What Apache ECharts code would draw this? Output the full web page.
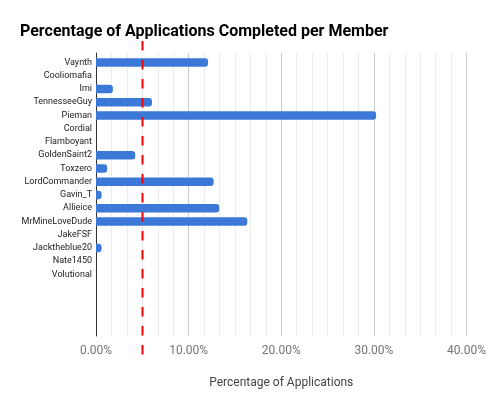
<!DOCTYPE html>
<html>
<head>
<meta charset="utf-8">
<script src="https://cdn.jsdelivr.net/npm/echarts@6/dist/echarts.min.js"></script>
<style>html,body{margin:0;padding:0;background:#fff}#c{width:489px;height:411px}</style>
</head>
<body>
<div id="c"></div>
<script>
const members = ["Vaynth","Cooliomafia","Imi","TennesseeGuy","Pieman","Cordial","Flamboyant","GoldenSaint2","Toxzero","LordCommander","Gavin_T","Allieice","MrMineLoveDude","JakeFSF","Jacktheblue20","Nate1450","Volutional"];
const percentCompleted = [12.05,0,1.81,6.02,30.12,0,0,4.22,1.2,12.65,0.6,13.25,16.27,0,0.6,0,0];
const emptyRows = ["","","",""];
const targetPercent = 5;
const xTicks = [0,10,20,30,40];

const cats = members.concat(emptyRows);
const vals = percentCompleted.concat(emptyRows.map(()=>null));
const font = 'Roboto';

const chart = echarts.init(document.getElementById('c'), null, {renderer:'canvas'});
chart.setOption({
  animation:false,
  backgroundColor:'#fff',
  title:{text:'Percentage of Applications Completed per Member', left:15, top:19,
    textStyle:{fontFamily:font, fontWeight:'bold', fontSize:16, color:'#000'}},
  grid:[
    {left:96, right:21, top:53, bottom:75},
    {left:96, right:21, top:55.8, height:278.25},
    {left:96, right:21, top:41, bottom:52}
  ],
  xAxis:[
    {gridIndex:0, type:'value', min:xTicks[0], max:xTicks[xTicks.length-1], interval:10,
      axisLine:{show:false}, axisTick:{show:false},
      axisLabel:{fontFamily:font, fontSize:12, color:'#757575', margin:9,
        formatter:v=>v.toFixed(2)+'%'},
      splitLine:{show:true, lineStyle:{color:'#cccccc', width:1}},
      minorTick:{show:false, splitNumber:6},
      minorSplitLine:{show:true, lineStyle:{color:'#ebebeb', width:1}},
      name:'Percentage of Applications', nameLocation:'middle', nameGap:41,
      nameTextStyle:{fontFamily:font, fontSize:12, color:'#444'}},
    {gridIndex:1, type:'value', min:0, max:40, show:false},
    {gridIndex:2, type:'value', min:0, max:40, show:false}
  ],
  yAxis:[
    {gridIndex:0, type:'value', min:0, max:1, axisLabel:{show:false}, splitLine:{show:false},
      axisTick:{show:false}, axisLine:{show:true, lineStyle:{color:'#333', width:1}}},
    {gridIndex:1, type:'category', data:cats, inverse:true,
      axisLine:{show:false}, axisTick:{show:false},
      axisLabel:{fontFamily:font, fontSize:9, color:'#222', margin:4}},
    {gridIndex:2, type:'value', min:0, max:1, show:false}
  ],
  series:[
    {type:'bar', xAxisIndex:1, yAxisIndex:1, data:vals, barWidth:8.5,
      itemStyle:{color:'#3c78d8', borderRadius:[0,3,3,0]}},
    {type:'line', xAxisIndex:2, yAxisIndex:2, data:[[targetPercent,1],[targetPercent,0]],
      symbol:'none', lineStyle:{color:'#ff0000', width:2, type:[9.5,9.5]}}
  ]
});
</script>
</body>
</html>
